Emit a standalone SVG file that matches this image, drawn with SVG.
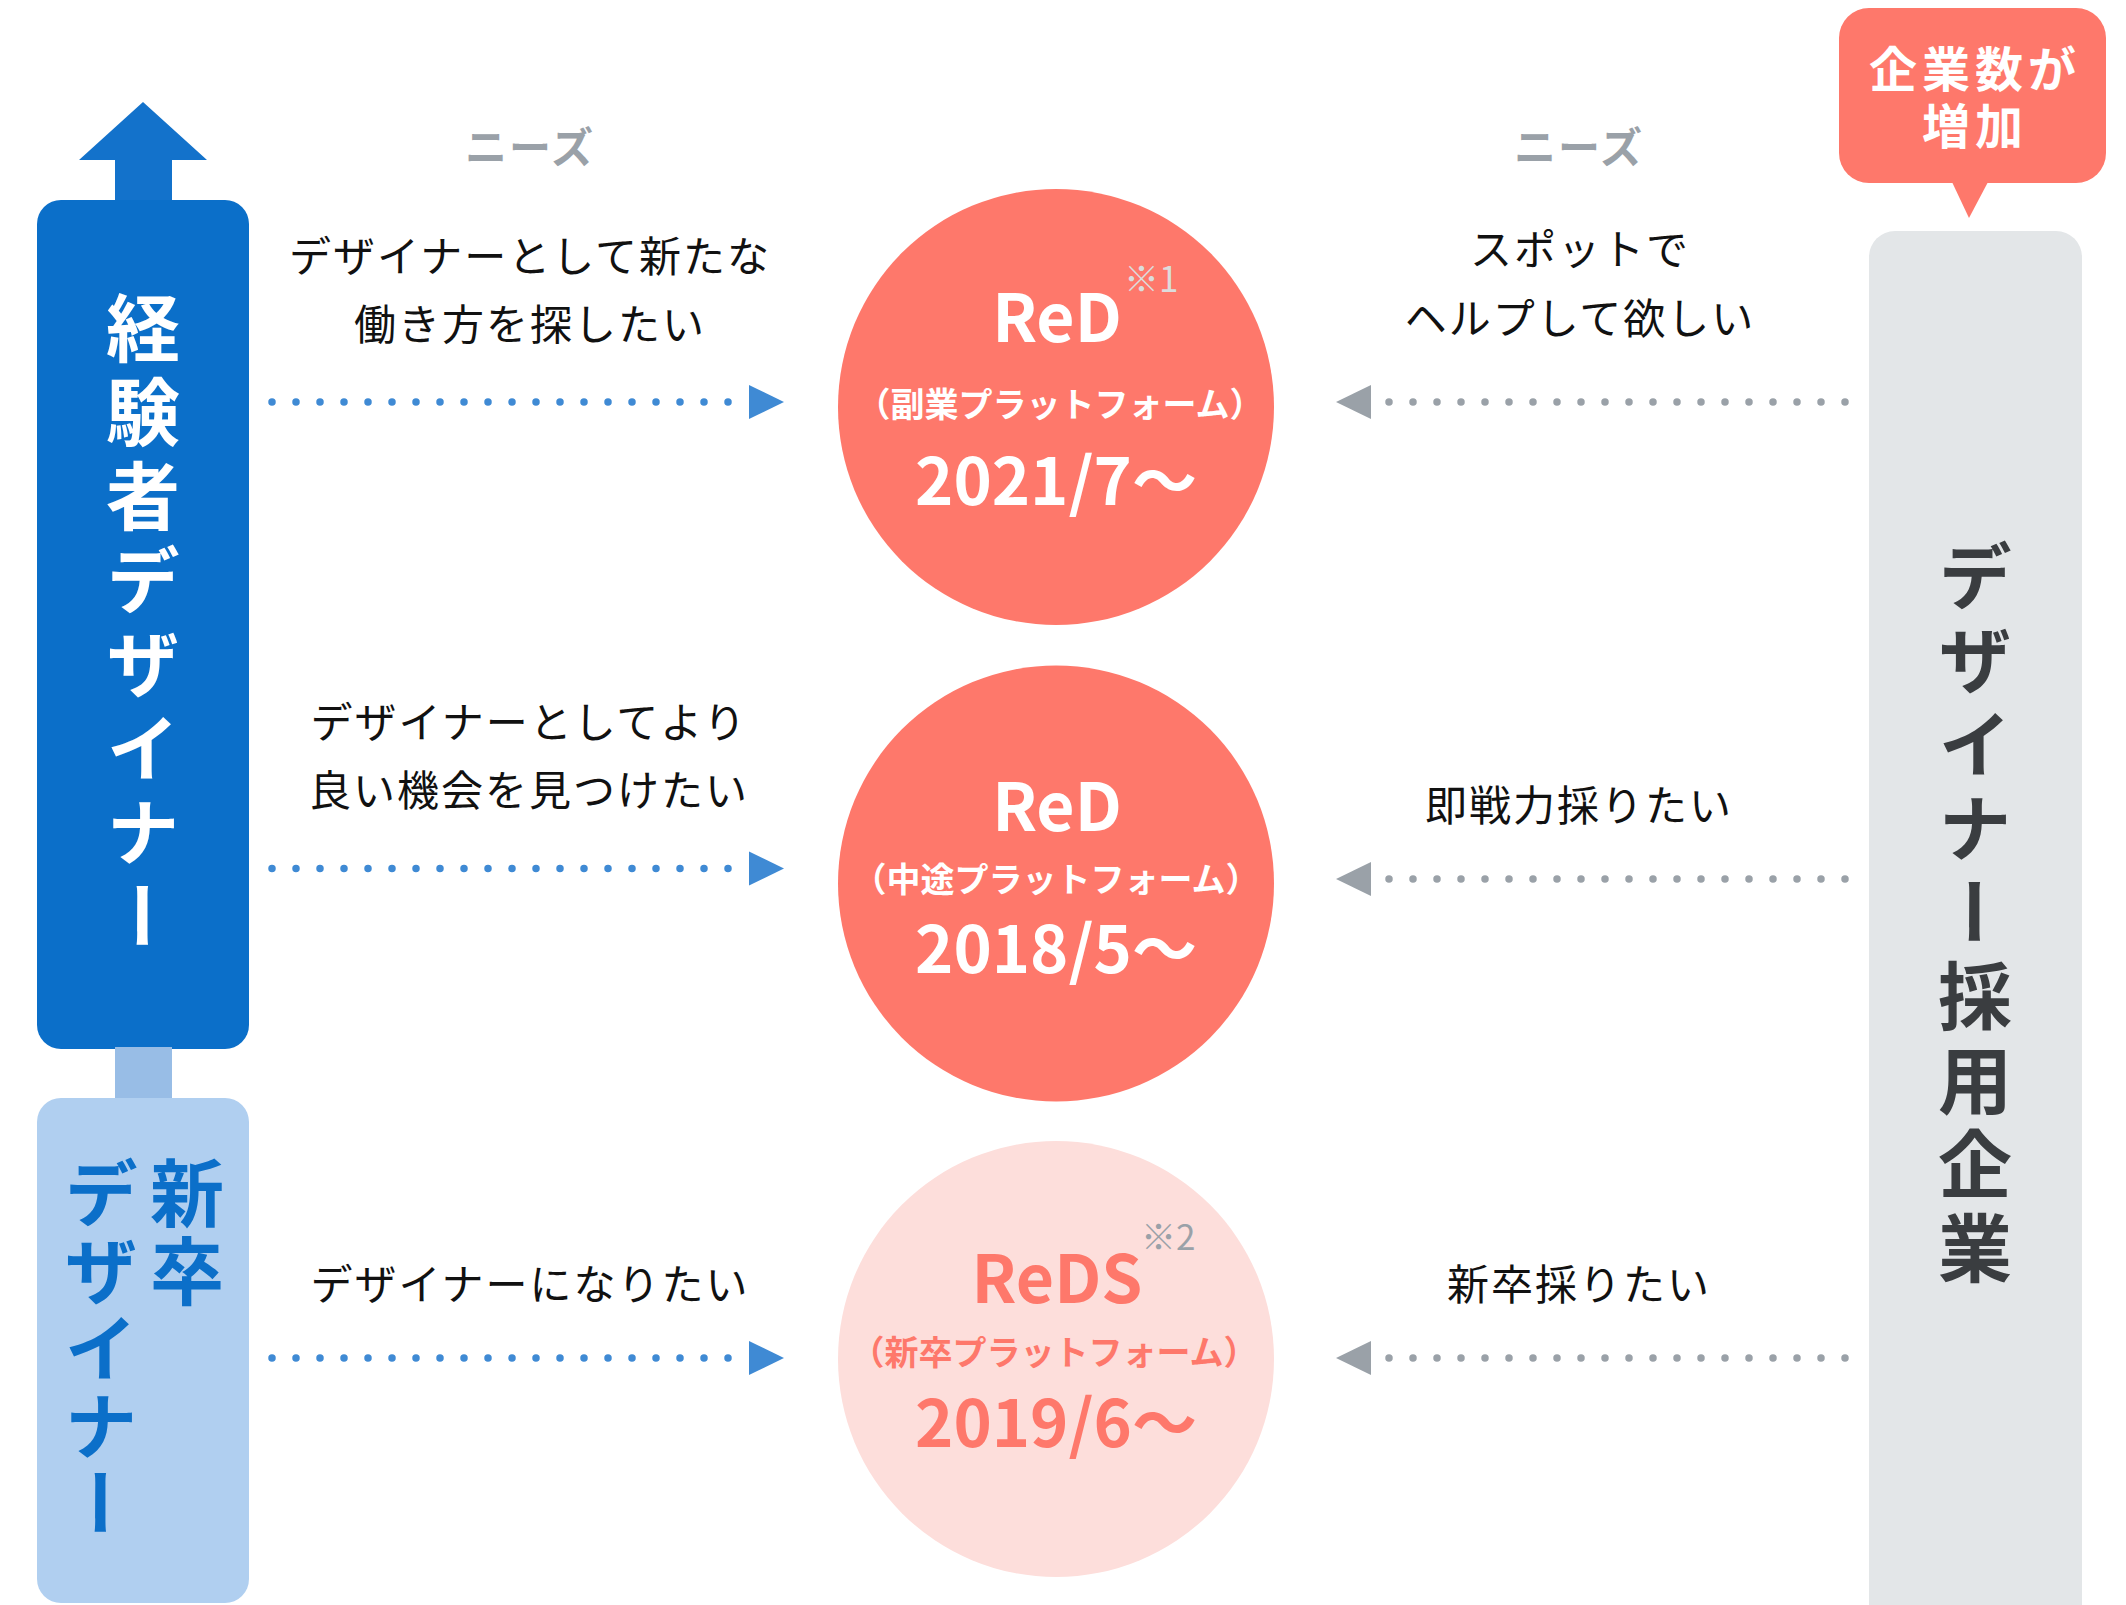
<svg xmlns="http://www.w3.org/2000/svg" width="2126" height="1605" viewBox="0 0 2126 1605">
<style>
.lbl{font-family:"Noto Sans CJK JP","Noto Sans",sans-serif;font-size:42px;letter-spacing:2px;fill:#111;text-anchor:middle}
.needs{font-family:"Noto Sans CJK JP",sans-serif;font-size:42px;font-weight:700;letter-spacing:2px;fill:#9aa1a8;text-anchor:middle}
.vt{font-family:"Noto Sans CJK JP",sans-serif;font-size:74px;font-weight:700;writing-mode:vertical-rl}
.ctitle{font-family:"Noto Sans CJK JP",sans-serif;font-size:66px;font-weight:700;text-anchor:middle}
.csub{font-family:"Noto Sans CJK JP",sans-serif;font-size:34px;font-weight:700;text-anchor:middle}
.cdate{font-family:"Noto Sans CJK JP",sans-serif;font-size:65px;font-weight:700;text-anchor:middle}
.note{font-family:"Noto Sans CJK JP",sans-serif;font-size:35px}
.bdot{stroke:#3f8ad4;stroke-width:7.5;stroke-linecap:round;stroke-dasharray:0 24;fill:none}
.gdot{stroke:#9aa1a8;stroke-width:7.5;stroke-linecap:round;stroke-dasharray:0 24;fill:none}
.bhead{fill:#3f8ad4}
.ghead{fill:#9aa1a8}
</style>

<g id="experienced-designer">
  <polygon points="143,102 207,160 172,160 172,202 115,202 115,160 79,160" fill="#1372cb"/>
  <rect x="37" y="200" width="212" height="849" rx="24" fill="#0b6fc9"/>
  <text class="vt" x="143" y="291" fill="#ffffff" letter-spacing="10">経験者デザイナー</text>
</g>

<g id="new-grad-designer">
  <rect x="115" y="1047" width="57" height="53" fill="#98bde6"/>
  <rect x="37" y="1098" width="212" height="505" rx="24" fill="#b0cff0"/>
  <text class="vt" x="187" y="1156" fill="#0b6fc9" letter-spacing="3.5">新卒</text>
  <text class="vt" x="101" y="1156" fill="#0b6fc9" letter-spacing="3.5">デザイナー</text>
</g>

<g id="companies">
  <rect x="1869" y="231" width="213" height="1400" rx="26" fill="#e3e6e8"/>
  <text class="vt" x="1975" y="539" fill="#3a3d40" letter-spacing="10">デザイナー採用企業</text>
</g>

<g id="bubble">
  <rect x="1839" y="8" width="267" height="175" rx="30" fill="#fe786b"/>
  <polygon points="1952,182 1988,182 1969,218" fill="#fe786b"/>
  <text font-family="Noto Sans CJK JP, sans-serif" font-size="48" font-weight="700" fill="#ffffff" text-anchor="middle" letter-spacing="5"><tspan x="1975" y="87">企業数が</tspan><tspan x="1975" y="144">増加</tspan></text>
</g>

<g id="red-side">
  <circle cx="1056" cy="407" r="218" fill="#fe786b"/>
  <text class="ctitle" x="1057" y="342" fill="#ffffff">ReD</text>
  <text class="note" x="1124" y="292" fill="#dcdcdc">※1</text>
  <text class="csub" x="1060" y="417" fill="#ffffff">（副業プラットフォーム）</text>
  <text class="cdate" x="1056" y="505" fill="#ffffff">2021/7〜</text>
</g>

<g id="red-mid">
  <circle cx="1056" cy="883.5" r="218" fill="#fe786b"/>
  <text class="ctitle" x="1057" y="831" fill="#ffffff">ReD</text>
  <text class="csub" x="1056" y="892" fill="#ffffff">（中途プラットフォーム）</text>
  <text class="cdate" x="1056" y="973" fill="#ffffff">2018/5〜</text>
</g>

<g id="reds">
  <circle cx="1056" cy="1359" r="218" fill="#fddedb"/>
  <text class="ctitle" x="1057" y="1303" fill="#fe786b">ReDS</text>
  <text class="note" x="1141" y="1250" fill="#9aa1a8">※2</text>
  <text class="csub" x="1054" y="1365" fill="#fe786b">（新卒プラットフォーム）</text>
  <text class="cdate" x="1056" y="1447" fill="#fe786b">2019/6〜</text>
</g>

<g id="needs-labels">
  <text class="needs" x="530" y="163">ニーズ</text>
  <text class="needs" x="1579" y="163">ニーズ</text>
  <text class="lbl" x="530" y="272">デザイナーとして新たな</text>
  <text class="lbl" x="530" y="340">働き方を探したい</text>
  <text class="lbl" x="1580" y="265">スポットで</text>
  <text class="lbl" x="1580" y="334">ヘルプして欲しい</text>
  <text class="lbl" x="529" y="738">デザイナーとしてより</text>
  <text class="lbl" x="529" y="806">良い機会を見つけたい</text>
  <text class="lbl" x="1579" y="821">即戦力採りたい</text>
  <text class="lbl" x="530" y="1300">デザイナーになりたい</text>
  <text class="lbl" x="1579" y="1300">新卒採りたい</text>
</g>

<g id="connectors">
  <line class="bdot" x1="272" y1="402" x2="729" y2="402"/>
  <polygon class="bhead" points="749,385 749,419 784,402"/>
  <line class="gdot" x1="1389" y1="402" x2="1846" y2="402"/>
  <polygon class="ghead" points="1371,385 1371,419 1336,402"/>

  <line class="bdot" x1="272" y1="868.5" x2="729" y2="868.5"/>
  <polygon class="bhead" points="749,851.5 749,885.5 784,868.5"/>
  <line class="gdot" x1="1389" y1="879" x2="1846" y2="879"/>
  <polygon class="ghead" points="1371,862 1371,896 1336,879"/>

  <line class="bdot" x1="272" y1="1358" x2="729" y2="1358"/>
  <polygon class="bhead" points="749,1341 749,1375 784,1358"/>
  <line class="gdot" x1="1389" y1="1358" x2="1846" y2="1358"/>
  <polygon class="ghead" points="1371,1341 1371,1375 1336,1358"/>
</g>
</svg>
